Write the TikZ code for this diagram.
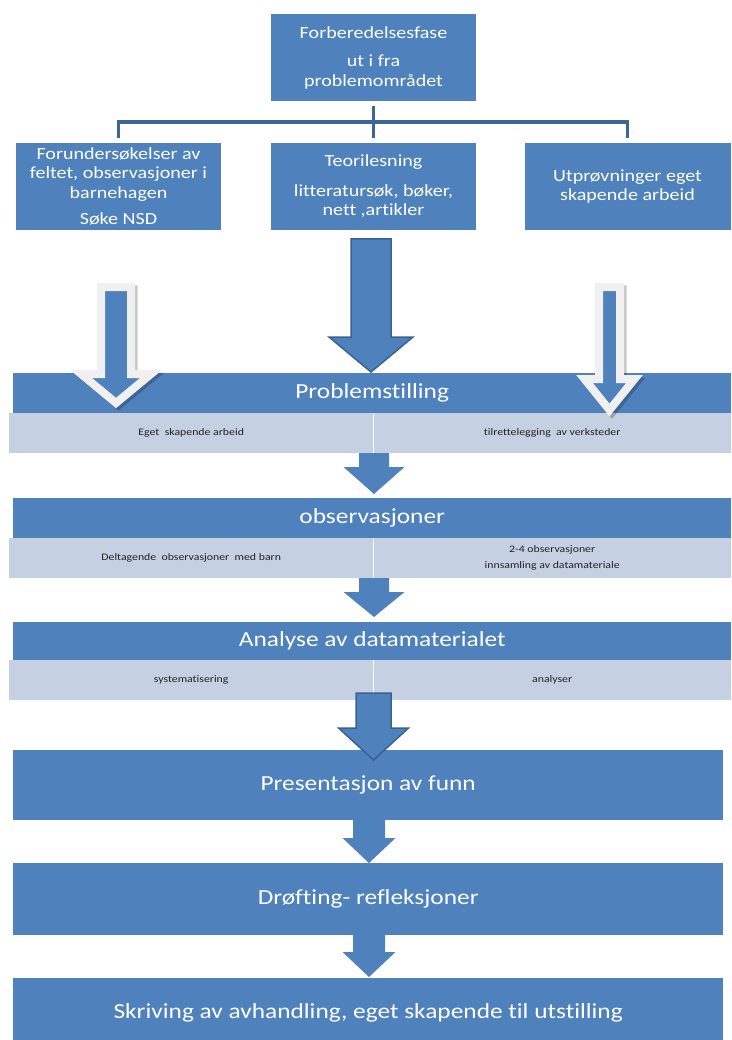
\documentclass[tikz,border=0pt]{standalone}
\usepackage{fontspec}
\setmainfont{Carlito}[FakeStretch=1.18, Ligatures=NoCommon]
\usetikzlibrary{positioning}

\definecolor{boxblue}{HTML}{4F81BD}
\definecolor{treeblue}{HTML}{3C6698}
\definecolor{edgeblue}{HTML}{3A6291}
\definecolor{barlight}{HTML}{C5D0E3}
\definecolor{smalltext}{HTML}{222222}

% block arrow: [style] {x} {top} {shaft half} {head top} {head half} {tip}
\newcommand{\blockarrow}[7][]{%
  \path[#1] ({#2-#4},#3) -- ({#2+#4},#3) -- ({#2+#4},#5) -- ({#2+#6},#5)
    -- (#2,#7) -- ({#2-#6},#5) -- ({#2-#4},#5) -- cycle;}

\tikzset{
  box/.style={fill=boxblue, text=white, minimum width=205pt, minimum height=87pt,
    inner sep=0pt, align=center, font=\fontsize{17}{19.5}\selectfont},
  bar/.style={fill=boxblue, text=white, anchor=north west, minimum height=40pt,
    inner sep=0pt, font=\fontsize{21.5}{24}\selectfont},
  subbar/.style={fill=barlight, anchor=north west, minimum height=40pt,
    inner sep=0pt, align=center, text=smalltext, font=\fontsize{10}{16}\selectfont},
  stepbox/.style={fill=boxblue, text=white, anchor=north west, minimum width=710pt,
    inner sep=0pt, font=\fontsize{21.5}{24}\selectfont},
  tree/.style={draw=treeblue, line width=3.5pt},
  flatarrow/.style={fill=boxblue},
  edgearrow/.style={fill=boxblue, draw=edgeblue, line width=1.5pt},
  hollowarrow/.style={fill=boxblue, draw=white!94!black, line width=8pt},
  arrowshadow/.style={fill=black, draw=black, line width=8pt, opacity=0.22, shift={(2.5,2.5)}}
}

\begin{document}
\begin{tikzpicture}[x=1pt, y=-1pt]
\useasboundingbox (0,0) rectangle (731,1040);

% preparation
\node [box] (top) at (373.5,57.5) {Forberedelsesfase\\[9pt] ut i fra\\ problemområdet};
\node [box] (left) at (118.5,186.5) {Forundersøkelser av\\ feltet, observasjoner i\\ barnehagen\\[7pt] Søke NSD};
\node [box] (mid) at (373.5,186.5) {Teorilesning\\[10pt] litteratursøk, bøker,\\ nett ,artikler};
\node [box, minimum width=206pt] (right) at (627.5,186.5) {Utprøvninger eget\\ skapende arbeid};

\coordinate (hub) at (373.5,122);
\draw[tree] ([yshift=-5pt]top.south) -- ([yshift=5pt]mid.north);
\draw[tree] ([yshift=5pt]left.north) |- (hub) -| ([yshift=5pt]right.north);

% bars with two halves
\node [bar, minimum width=718pt] (probl) at (13,373) {Problemstilling};
\node [subbar, minimum width=364pt] (problL) at (9,413) {Eget\ \ skapende arbeid};
\node [subbar, minimum width=358pt] (problR) at (373,413) {tilrettelegging\ \ av verksteder};

\node [bar, minimum width=718pt] (obs) at (13,498) {observasjoner};
\node [subbar, minimum width=364pt] (obsL) at (9,538) {Deltagende\ \ observasjoner\ \ med barn};
\node [subbar, minimum width=358pt] (obsR) at (373,538) {2-4 observasjoner\\ innsamling av datamateriale};

\node [bar, minimum width=718pt, minimum height=38pt] (ana) at (13,622) {Analyse av datamaterialet};
\node [subbar, minimum width=364pt] (anaL) at (9,660) {systematisering};
\node [subbar, minimum width=358pt] (anaR) at (373,660) {analyser};

\draw[white!90!barlight, line width=1pt] (problL.north east) -- (problL.south east);
\draw[white!90!barlight, line width=1pt] (obsL.north east) -- (obsL.south east);
\draw[white!90!barlight, line width=1pt] (anaL.north east) -- (anaL.south east);

% later steps
\node [stepbox, minimum height=70pt] (pres) at (13,750) {Presentasjon av funn};
\node [stepbox, minimum height=72pt] (drof) at (13,863) {Drøfting- refleksjoner};
\node [stepbox, minimum height=70pt] (skriv) at (13,978) {Skriving av avhandling, eget skapende til utstilling};

% arrows
\blockarrow[edgearrow]{371}{239}{20}{337}{42}{372}
\blockarrow[arrowshadow]{116}{287}{15}{374}{35}{403}
\blockarrow[hollowarrow]{116}{287}{15}{374}{35}{403}
\blockarrow[arrowshadow]{609.5}{287}{10.5}{379}{25}{410}
\blockarrow[hollowarrow]{609.5}{287}{10.5}{379}{25}{410}

\blockarrow[flatarrow]{374}{453}{15}{467}{30.5}{494}
\blockarrow[flatarrow]{374}{578}{15}{592}{30.5}{617}
\blockarrow[edgearrow]{373.5}{693}{17.5}{728}{35}{760}
\blockarrow[flatarrow]{369}{820}{16}{838}{26.5}{863}
\blockarrow[flatarrow]{369}{935}{16}{952}{26.5}{977}
\end{tikzpicture}
\end{document}
